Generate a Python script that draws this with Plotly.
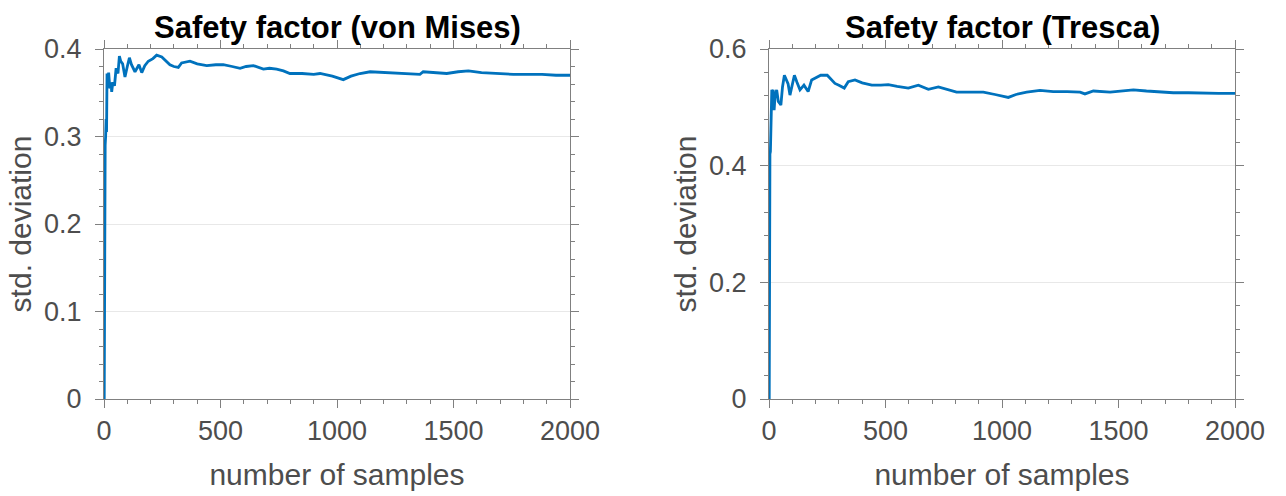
import plotly.graph_objects as go

# ---- data ----
n_mises = [1, 2, 3, 5, 7, 9, 11, 13, 16, 20, 25, 30, 33, 38, 45, 52, 60, 66, 72, 80, 90, 100,
           109, 118, 133, 150, 162, 175, 190, 210, 226, 248, 265, 283, 300, 319, 333, 369,
           400, 441, 480, 512, 550, 584, 610, 641, 684, 710, 741, 770, 798, 850, 900, 927,
           980, 1027, 1060, 1099, 1142, 1200, 1260, 1300, 1356, 1370, 1420, 1471, 1520, 1564,
           1620, 1680, 1757, 1820, 1880, 1940, 2000]
std_mises = [0.0, 0.215, 0.224, 0.29, 0.30, 0.32, 0.305, 0.372, 0.366, 0.373, 0.355, 0.362,
             0.351, 0.362, 0.358, 0.378, 0.372, 0.392, 0.386, 0.383, 0.368, 0.380, 0.390, 0.382,
             0.374, 0.382, 0.373, 0.381, 0.386, 0.389, 0.393, 0.391, 0.386, 0.382, 0.380, 0.379,
             0.384, 0.386, 0.383, 0.381, 0.382, 0.382, 0.380, 0.378, 0.380, 0.381, 0.377, 0.378,
             0.377, 0.375, 0.372, 0.372, 0.371, 0.372, 0.369, 0.365, 0.369, 0.372, 0.374, 0.373,
             0.372, 0.372, 0.371, 0.374, 0.373, 0.372, 0.374, 0.375, 0.373, 0.372, 0.371, 0.371,
             0.371, 0.370, 0.370]

n_tresca = [1, 2, 3, 4, 6, 8, 10, 12, 15, 18, 22, 26, 33, 40, 51, 58, 66, 75, 82, 90, 100, 109,
            120, 133, 150, 168, 183, 200, 222, 250, 265, 283, 300, 323, 340, 369, 400, 441, 480,
            512, 550, 598, 641, 684, 727, 760, 805, 860, 920, 970, 1027, 1060, 1106, 1163, 1220,
            1280, 1335, 1356, 1392, 1464, 1520, 1564, 1620, 1680, 1735, 1800, 1870, 1930, 2000]
std_tresca = [0.0, 0.32, 0.315, 0.42, 0.424, 0.461, 0.44, 0.53, 0.525, 0.530, 0.495, 0.52, 0.530,
              0.51, 0.504, 0.535, 0.555, 0.545, 0.540, 0.521, 0.540, 0.555, 0.543, 0.530, 0.538,
              0.527, 0.547, 0.550, 0.555, 0.555, 0.548, 0.541, 0.538, 0.533, 0.544, 0.547, 0.542,
              0.538, 0.538, 0.539, 0.536, 0.533, 0.538, 0.531, 0.535, 0.531, 0.526, 0.526, 0.526,
              0.522, 0.517, 0.522, 0.526, 0.529, 0.527, 0.527, 0.526, 0.523, 0.528, 0.526, 0.528,
              0.530, 0.528, 0.526, 0.525, 0.525, 0.524, 0.524, 0.524]

titles = ["Safety factor (von Mises)", "Safety factor (Tresca)"]
x_title = "number of samples"
y_title = "std. deviation"

LINE = "#0072BD"
AX = "#808080"
TXT = "#4d4d4d"
FONT = "Liberation Sans, Arial, sans-serif"

W, H = 1286, 496
left_dom = [104 / W, 570 / W]
right_dom = [769 / W, 1235 / W]
y_dom = [(H - 399) / H, (H - 49) / H]

fig = go.Figure()
fig.add_trace(go.Scatter(x=n_mises, y=std_mises, mode="lines",
                         line=dict(color=LINE, width=2.8), xaxis="x", yaxis="y",
                         showlegend=False, hoverinfo="skip"))
fig.add_trace(go.Scatter(x=n_tresca, y=std_tresca, mode="lines",
                         line=dict(color=LINE, width=2.8), xaxis="x2", yaxis="y2",
                         showlegend=False, hoverinfo="skip"))


def xax(dom, anchor):
    return dict(domain=dom, anchor=anchor, range=[0, 2000], tickvals=[0, 500, 1000, 1500, 2000],
                automargin=False,
                showline=True, linecolor=AX, linewidth=1, mirror="ticks",
                ticks="outside", ticklen=8, tickcolor=AX, tickwidth=1,
                minor=dict(dtick=100, ticks="outside", ticklen=4, tickcolor=AX, showgrid=False),
                showgrid=False, zeroline=False, ticklabelstandoff=0,
                tickfont=dict(family=FONT, size=27, color=TXT),
                title=dict(text=x_title, font=dict(family=FONT, size=30, color=TXT), standoff=18))


def yax(dom, anchor, rng, dtick, mdtick):
    return dict(domain=dom, anchor=anchor, range=rng, dtick=dtick, tick0=0,
                automargin=False,
                showline=True, linecolor=AX, linewidth=1, mirror="ticks",
                ticks="outside", ticklen=8, tickcolor=AX, tickwidth=1,
                minor=dict(dtick=mdtick, tick0=0, ticks="outside", ticklen=4, tickcolor=AX,
                           showgrid=False),
                showgrid=True, gridcolor="#e8e8e8", gridwidth=1, zeroline=False,
                ticklabelstandoff=8,
                tickfont=dict(family=FONT, size=27, color=TXT),
                title=dict(text=y_title, font=dict(family=FONT, size=30, color=TXT), standoff=3))


fig.update_layout(
    width=W, height=H,
    margin=dict(l=0, r=0, t=0, b=0),
    paper_bgcolor="white", plot_bgcolor="white",
    xaxis=xax(left_dom, "y"),
    yaxis=yax(y_dom, "x", [0, 0.4], 0.1, 0.02),
    xaxis2=xax(right_dom, "y2"),
    yaxis2=yax(y_dom, "x2", [0, 0.6], 0.2, 0.04),
    annotations=[
        dict(text="<b>%s</b>" % titles[0], x=sum(left_dom) / 2, y=1 - 27 / H,
             xref="paper", yref="paper", showarrow=False, xanchor="center", yanchor="middle",
             font=dict(family=FONT, size=31, color="black")),
        dict(text="<b>%s</b>" % titles[1], x=sum(right_dom) / 2, y=1 - 27 / H,
             xref="paper", yref="paper", showarrow=False, xanchor="center", yanchor="middle",
             font=dict(family=FONT, size=31, color="black")),
    ],
)

fig.write_html("out.html")
